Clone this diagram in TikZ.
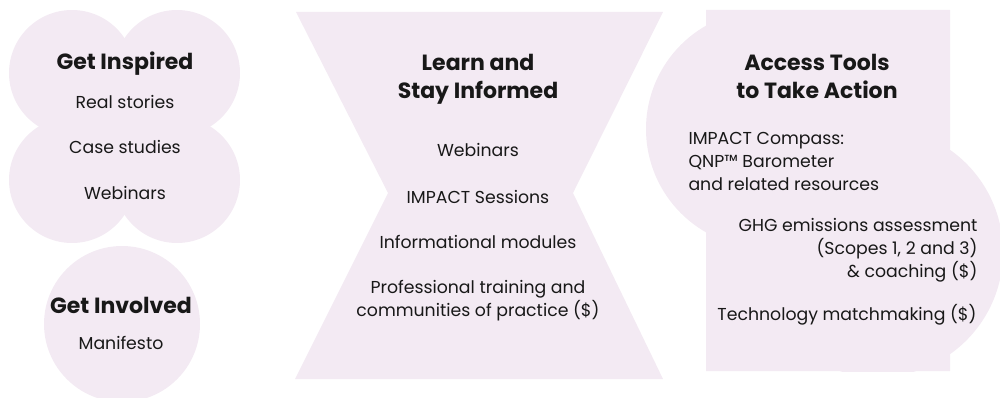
\documentclass[tikz,border=0pt]{standalone}
\usepackage{fontspec}
\setmainfont{Poppins}
\definecolor{lilac}{RGB}{243,234,243}
\definecolor{ink}{RGB}{24,24,24}

\begin{document}
\begin{tikzpicture}[x=1pt,y=-1pt,
  heading/.style={font=\fontsize{22}{28}\selectfont\bfseries,text=ink,align=center,anchor=base},
  entry/.style={font=\fontsize{17.3}{23}\selectfont,text=ink,align=center,anchor=base}]
\useasboundingbox (0,0) rectangle (1000,398);
% four-leaf blob and the small circle
\fill[lilac] (72,73) rectangle (177,180);
\foreach \cx/\cy in {72/73,177/73,72/180,177/180}
  \fill[lilac] (\cx,\cy) circle (63);
\fill[lilac] (122,324) circle (78);
% hourglass
\fill[lilac] (296,12) -- (663,12) -- (573,193) -- (663,379) -- (295,379) -- (388,193) -- cycle;
% block with two round bulges
\fill[lilac] (706,371) rectangle (950,10) (765,129) circle (119);
\begin{scope}
\clip (600,0) rectangle (1000,371);
\fill[lilac] (878,252) circle (125);
\end{scope}

\node[heading] (inspired) at (125,70) {Get Inspired};
\node[entry] (stories) at (125,109) {Real stories};
\node[entry] (cases) at (125,154) {Case studies};
\node[entry] (webin1) at (125,200) {Webinars};
\node[heading] (involved) at (121,313) {Get Involved};
\node[entry] (manifesto) at (121,349) {Manifesto};

\node[heading] (learn) at (478,99) {Learn and\\Stay Informed};
\node[entry] (webin2) at (478,157) {Webinars};
\node[entry] (sessions) at (478,203) {IMPACT Sessions};
\node[entry] (modules) at (478,248) {Informational modules};
\node[entry] (training) at (478,316) {Professional training and\\communities of practice (\$)};

\node[heading] (tools) at (817,99) {Access Tools\\to Take Action};
\node[entry,align=left,anchor=base west] (compass) at (685,190) {IMPACT Compass:\\QNP™ Barometer\\and related resources};
\node[entry,align=right,anchor=base east] (ghg) at (981,277) {GHG emissions assessment\\(Scopes 1, 2 and 3)\\\& coaching (\$)};
\node[entry] (match) at (847,320) {Technology matchmaking (\$)};
\end{tikzpicture}
\end{document}
